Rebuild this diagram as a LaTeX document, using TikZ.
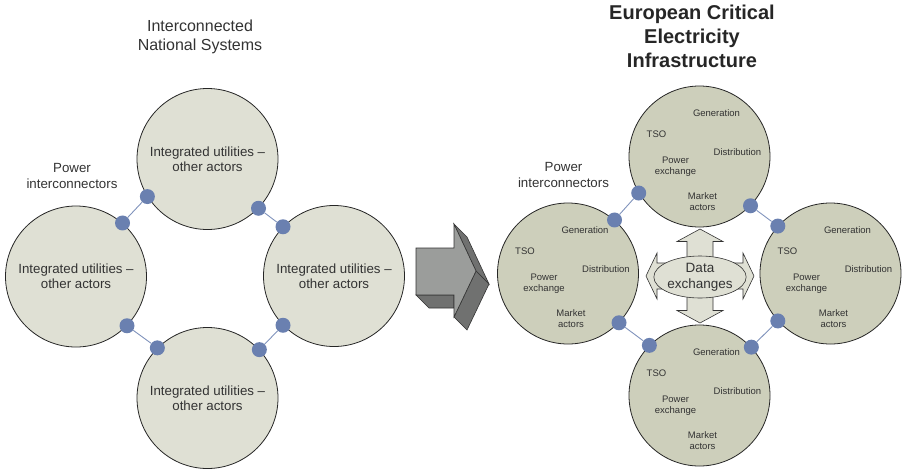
\documentclass[tikz,border=0pt]{standalone}
\usepackage{fontspec}
\setmainfont{Liberation Sans}
\usetikzlibrary{shapes.geometric}
\definecolor{natfill}{HTML}{DFE0D4}
\definecolor{eufill}{HTML}{CDCFBB}
\definecolor{plugblue}{HTML}{6A80B0}
\definecolor{txtgray}{HTML}{333333}
\definecolor{faceg}{HTML}{9B9D9B}
\definecolor{sideg}{HTML}{707170}

\begin{document}
\begin{tikzpicture}[x=1pt,y=-1pt]
            \tikzstyle{nation} = [circle,draw=black!85,line width=0.8pt,fill=natfill,minimum size=141pt,inner sep=0pt,align=center,text=txtgray,font=\fontsize{13.3}{15}\selectfont]
            \tikzstyle{member} = [nation,fill=eufill]
            \tikzstyle{plug} = [circle,fill=plugblue,minimum size=15pt,inner sep=0pt]
            \tikzstyle{link} = [plugblue!85,line width=0.9pt]
            \tikzstyle{role} = [align=center,inner sep=1pt,text=txtgray,font=\fontsize{9.5}{11}\selectfont]
            \tikzstyle{label} = [align=center,text=txtgray,font=\fontsize{13.3}{16}\selectfont]
            \def \grey{black!80}
            \useasboundingbox (0,0) rectangle (905,472);

            % interconnected national systems
            \node[label,font=\fontsize{16}{19}\selectfont] (natTitle) at (200,37) {Interconnected\\National Systems};
            \node[label] (natPI) at (72,176) {Power\\interconnectors};

            \node[nation] (top) at (207.5,159) {Integrated utilities --\\other actors};
            \node[nation] (left) at (76,276.5) {Integrated utilities --\\other actors};
            \node[nation] (right) at (334,276) {Integrated utilities --\\other actors};
            \node[nation] (bottom) at (207.5,398) {Integrated utilities --\\other actors};

            \node[plug] (p1) at (top.212) {};
            \node[plug] (p2) at (left.49) {};
            \node[plug] (p3) at (top.-44) {};
            \node[plug] (p4) at (right.136) {};
            \node[plug] (p5) at (left.-44) {};
            \node[plug] (p6) at (bottom.135) {};
            \node[plug] (p7) at (bottom.43) {};
            \node[plug] (p8) at (right.224) {};
            \draw[link] (p1) -- (p2);
            \draw[link] (p3) -- (p4);
            \draw[link] (p5) -- (p6);
            \draw[link] (p7) -- (p8);

            % block arrow
            \filldraw[draw=\grey,fill=sideg,line width=0.6pt] (454,224) -- (467,237) -- (489,284) -- (476,271) -- cycle;
            \filldraw[draw=\grey,fill=sideg,line width=0.6pt] (476,271) -- (489,284) -- (467,330) -- (454,317) -- cycle;
            \filldraw[draw=\grey,fill=sideg,line width=0.6pt] (416,295) -- (429,308) -- (454,308) -- (454,295) -- cycle;
            \filldraw[draw=\grey,fill=faceg,line width=0.6pt] (416,248) -- (454,248) -- (454,224) -- (476,271) -- (454,317) -- (454,295) -- (416,295) -- cycle;

            % european critical electricity infrastructure
            \node[label,font=\fontsize{20}{24}\selectfont\bfseries,text=black!85] (euTitle) at (692,36.5) {European Critical\\Electricity\\Infrastructure};
            \node[label] (euPI) at (563.5,174.5) {Power\\interconnectors};

            \node[member] (etop) at (699.5,156.5) {};
            \node[member] (eleft) at (568,273.5) {};
            \node[member] (eright) at (830.5,273.5) {};
            \node[member] (ebottom) at (699.5,395.5) {};

            \foreach \c in {etop,eleft,eright,ebottom} {
                \node[role] (\c-gen) at ([shift={(17,-43)}]\c.center) {Generation};
                \node[role] (\c-tso) at ([shift={(-43,-22)}]\c.center) {TSO};
                \node[role] (\c-dist) at ([shift={(38,-4)}]\c.center) {Distribution};
                \node[role] (\c-px) at ([shift={(-24,10)}]\c.center) {Power\\exchange};
                \node[role] (\c-mkt) at ([shift={(3,45.5)}]\c.center) {Market\\actors};
            }

            \node[plug] (q1) at (etop.211) {};
            \node[plug] (q2) at (eleft.49) {};
            \node[plug] (q3) at (etop.-44) {};
            \node[plug] (q4) at (eright.138) {};
            \node[plug] (q5) at (eleft.-44) {};
            \node[plug] (q6) at (ebottom.135) {};
            \node[plug] (q7) at (ebottom.43) {};
            \node[plug] (q8) at (eright.222) {};
            \draw[link] (q1) -- (q2);
            \draw[link] (q3) -- (q4);
            \draw[link] (q5) -- (q6);
            \draw[link] (q7) -- (q8);

            % data exchanges
            \filldraw[draw=\grey,fill=natfill,line width=0.6pt] (700,229) -- (723,241.5) -- (713,241.5) -- (713,263) -- (743,263) -- (743,253) -- (754,276) -- (743,299) -- (743,289) -- (713,289) -- (713,310.5) -- (723,310.5) -- (700,323) -- (677,310.5) -- (687,310.5) -- (687,289) -- (657,289) -- (657,299) -- (646,276) -- (657,253) -- (657,263) -- (687,263) -- (687,241.5) -- (677,241.5) -- cycle;
            \node[ellipse,draw=\grey,fill=natfill,line width=0.6pt,minimum width=81pt,minimum height=42pt,inner sep=0pt,align=center,text=txtgray,font=\fontsize{13.5}{15.7}\selectfont] (dx) at (700,277) {Data\\exchanges};
        \end{tikzpicture}
\end{document}
